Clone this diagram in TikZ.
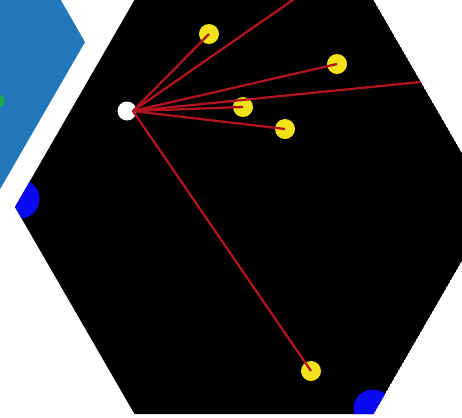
\documentclass[tikz,border=0pt]{standalone}
\usetikzlibrary{calc}
\definecolor{hexblue}{HTML}{2277BB}
\definecolor{rayred}{HTML}{B0141E}
\definecolor{dotyellow}{HTML}{F2E21A}
\definecolor{dotblue}{HTML}{0A0AF0}
\definecolor{dotgreen}{HTML}{1FA84A}
\tikzset{
  cell/.style={line width=0pt},
  target/.style={circle, fill=dotyellow, inner sep=0pt, minimum size=0.4cm},
  source/.style={circle, fill=white, inner sep=0pt, minimum size=0.38cm},
  corner/.style={circle, fill=dotblue, inner sep=0pt, minimum size=0.78cm},
  ray/.style={rayred, line width=1.3pt},
}
\begin{document}
\begin{tikzpicture}[x=0.02cm, y=-0.02cm]
    \useasboundingbox (0,0) rectangle (462,417);
    % neighbouring cell
    \begin{scope}
      \clip (0,0) rectangle (462,417);
      \fill[hexblue, cell] (85,42) -- (-34.5,-165) -- (-273.5,-165) -- (-393,42) -- (-273.5,249) -- (-34.5,249) -- cycle;
      \node[circle, fill=dotgreen, inner sep=0pt, minimum size=0.26cm] (g) at (-2,101) {};
    \end{scope}
    % main cell
    \begin{scope}
      \clip (134.5,0) -- (373.5,0) -- (493,207) -- (373.5,414) -- (134.5,414) -- (15,207) -- cycle;
      \fill[black, cell] (134.5,0) -- (373.5,0) -- (493,207) -- (373.5,414) -- (134.5,414) -- (15,207) -- cycle;
      \node[corner] (b1) at (20,199) {};
      \node[corner] (b2) at (373,409) {};

      \node[source] (w) at (127,111) {};
      \coordinate (hub) at ($(w.center)!0.6!(w.east)$);
      \node[target] (y1) at (209,34) {};
      \node[target] (y2) at (337,64) {};
      \node[target] (y3) at (243,107) {};
      \node[target] (y4) at (285,129) {};
      \node[target] (y5) at (311,371) {};
      \coordinate (e1) at (300,-5);
      \coordinate (e2) at (440,80);

      \draw[ray] (hub) -- (y1.center);
      \draw[ray] (hub) -- (e1);
      \draw[ray] (hub) -- (y2.center);
      \draw[ray] (hub) -- (e2);
      \draw[ray] (hub) -- (y3.center);
      \draw[ray] (hub) -- (y4.center);
      \draw[ray] (hub) -- (y5.center);
    \end{scope}
  \end{tikzpicture}
\end{document}
